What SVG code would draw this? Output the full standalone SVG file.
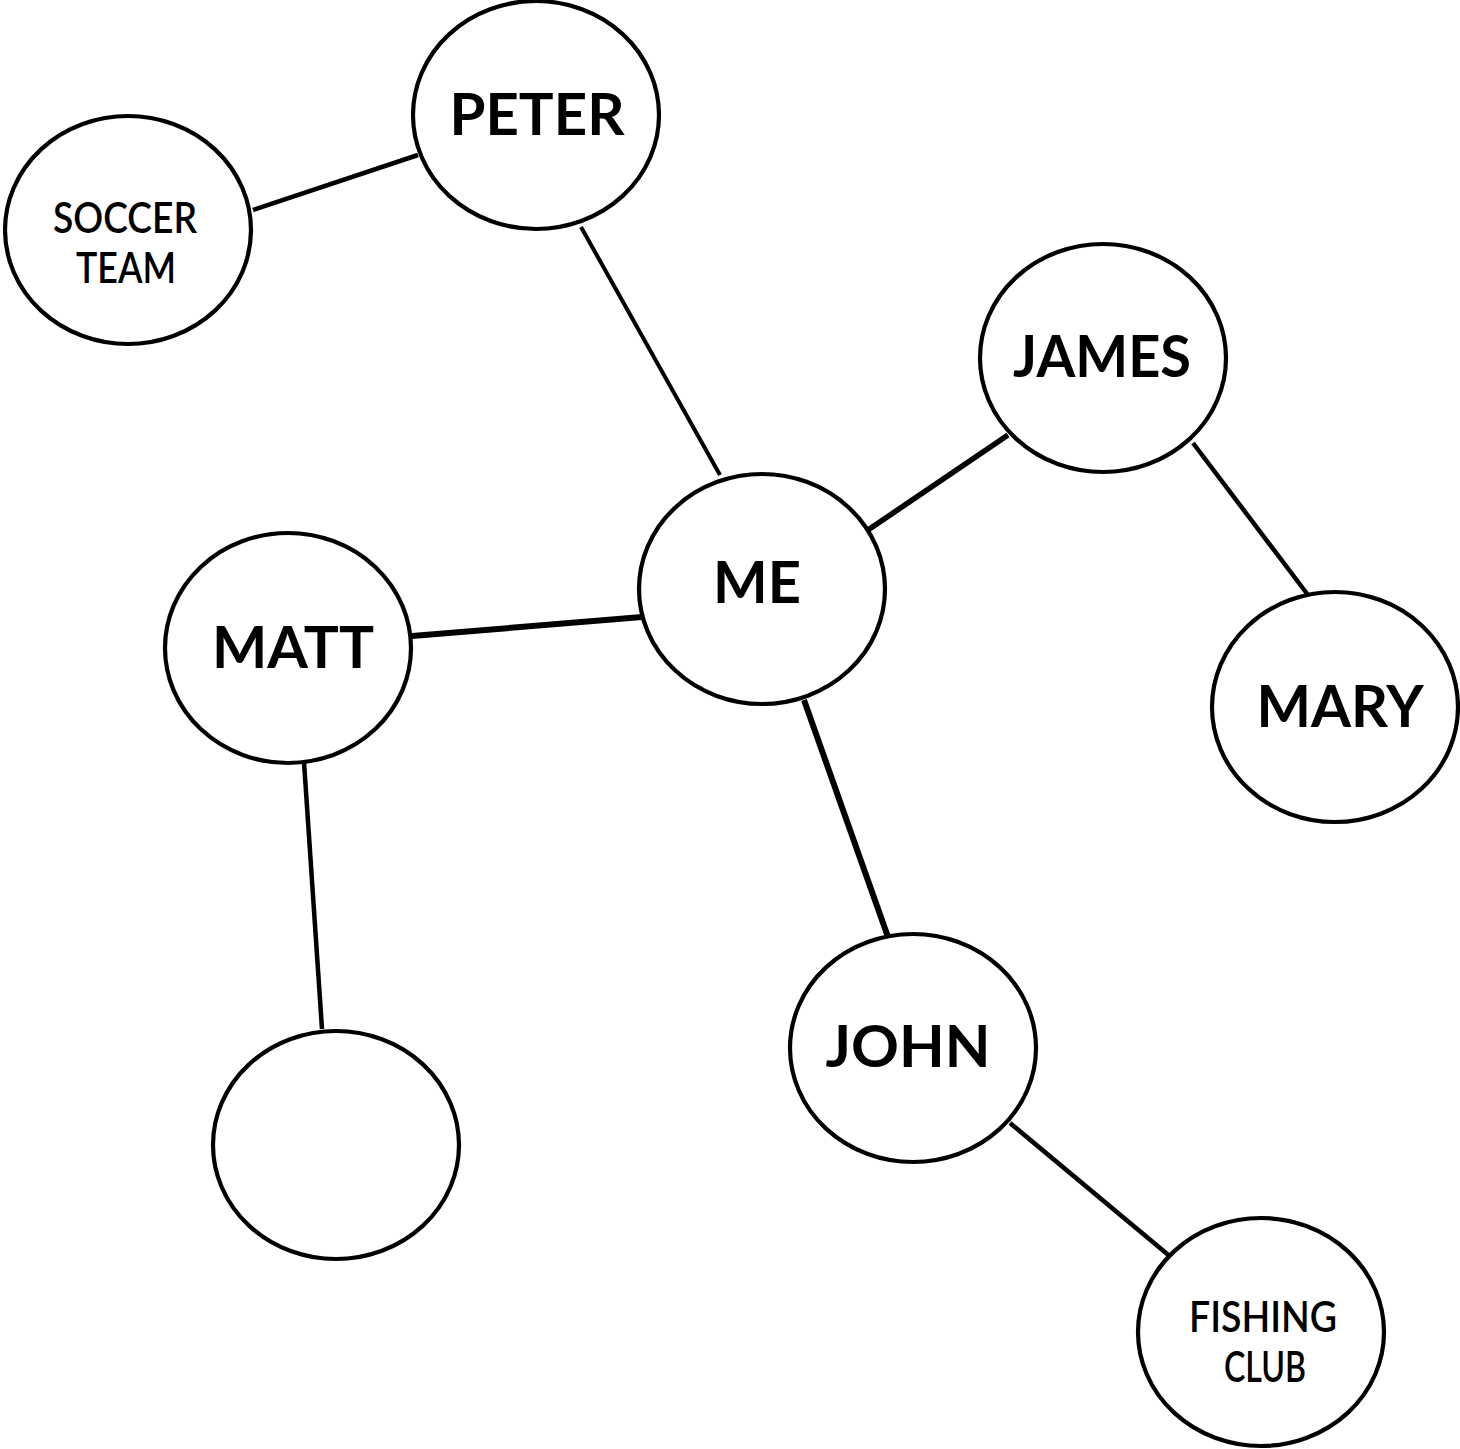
<svg xmlns="http://www.w3.org/2000/svg" width="1460" height="1449" viewBox="0 0 1460 1449">
<style>
.node ellipse{fill:#fff;stroke:#000;stroke-width:4.2}
.lbl{font-family:Lato,"Noto Sans","Liberation Sans",sans-serif;fill:#000;text-anchor:middle}
.big{font-size:58px;font-weight:bold}
.small{font-size:42px;font-weight:600}
#connectors line{stroke:#000;stroke-linecap:butt}
</style>
<rect width="1460" height="1449" fill="#fff"/>
<g id="connectors">
<line x1="253" y1="210" x2="418" y2="155" stroke-width="4.5"/>
<line x1="581" y1="227" x2="720" y2="475" stroke-width="4"/>
<line x1="868" y1="530" x2="1008" y2="435" stroke-width="5.5"/>
<line x1="1193" y1="443" x2="1308" y2="595" stroke-width="4.5"/>
<line x1="412" y1="636" x2="642" y2="617" stroke-width="6"/>
<line x1="304" y1="762" x2="322" y2="1029" stroke-width="4.5"/>
<line x1="804" y1="700" x2="888" y2="937" stroke-width="6"/>
<line x1="1010" y1="1123" x2="1172" y2="1258" stroke-width="4.5"/>
</g>
<g id="node-peter" class="node"><ellipse cx="536" cy="115" rx="123" ry="114"/><text class="lbl big" x="537" y="135" textLength="175" lengthAdjust="spacingAndGlyphs">PETER</text></g>
<g id="node-soccer" class="node"><ellipse cx="128" cy="230" rx="123" ry="114"/><text class="lbl small" x="125" y="233" textLength="144" lengthAdjust="spacingAndGlyphs">SOCCER</text><text class="lbl small" x="126" y="283" textLength="100" lengthAdjust="spacingAndGlyphs">TEAM</text></g>
<g id="node-james" class="node"><ellipse cx="1103" cy="358" rx="123" ry="114"/><text class="lbl big" x="1102" y="377" textLength="178" lengthAdjust="spacingAndGlyphs">JAMES</text></g>
<g id="node-me" class="node"><ellipse cx="762" cy="589" rx="123" ry="115"/><text class="lbl big" x="757" y="603" textLength="88" lengthAdjust="spacingAndGlyphs">ME</text></g>
<g id="node-matt" class="node"><ellipse cx="288" cy="648" rx="123" ry="115"/><text class="lbl big" x="293" y="668" textLength="162" lengthAdjust="spacingAndGlyphs">MATT</text></g>
<g id="node-mary" class="node"><ellipse cx="1335" cy="707" rx="123" ry="115"/><text class="lbl big" x="1340" y="727" textLength="167" lengthAdjust="spacingAndGlyphs">MARY</text></g>
<g id="node-empty" class="node"><ellipse cx="336" cy="1145" rx="123" ry="114"/></g>
<g id="node-john" class="node"><ellipse cx="913" cy="1048" rx="123" ry="114"/><text class="lbl big" x="908" y="1067" textLength="165" lengthAdjust="spacingAndGlyphs">JOHN</text></g>
<g id="node-fishing" class="node"><ellipse cx="1261" cy="1332" rx="123" ry="114"/><text class="lbl small" x="1263" y="1332" textLength="148" lengthAdjust="spacingAndGlyphs">FISHING</text><text class="lbl small" x="1265" y="1382" textLength="82" lengthAdjust="spacingAndGlyphs">CLUB</text></g>
</svg>
